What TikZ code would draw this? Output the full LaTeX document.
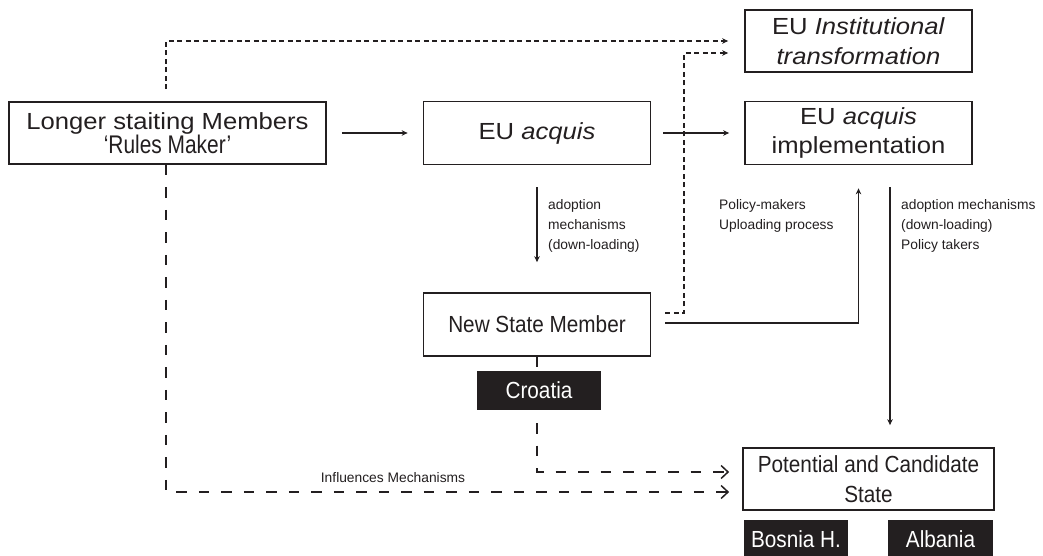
\documentclass[tikz,border=0pt]{standalone}
\usepackage{fontspec}
\setmainfont{Liberation Sans}
\newfontfamily\widef[FakeStretch=1.1]{Liberation Sans}
\newfontfamily\narf[FakeStretch=0.89]{Liberation Sans}
\newfontfamily\rmkf[FakeStretch=0.82]{Liberation Sans}
\usetikzlibrary{arrows.meta}
\definecolor{ink}{RGB}{35,31,32}
\begin{document}
\begin{tikzpicture}[x=1pt,y=-1pt,
  box/.style={draw=ink,line width=1.7pt,fill=white,text=ink,align=center,inner sep=0pt},
  bigtxt/.style={font=\widef\fontsize{23.3}{29.5}\selectfont},
  midtxt/.style={font=\narf\fontsize{23.3}{30}\selectfont},
  tag/.style={fill=ink,text=white,inner sep=0pt,font=\narf\fontsize{23.3}{25}\selectfont},
  lab/.style={text=ink,align=left,inner sep=0pt,anchor=north west,font=\fontsize{13.8}{20}\selectfont},
  arr/.style={draw=ink,line width=1.4pt,-{Stealth[length=6pt,width=5.5pt]}},
  sdash/.style={draw=ink,line width=1.4pt,dash pattern=on 5pt off 3.5pt,-{Stealth[length=6pt,width=5.5pt]}},
  ldash/.style={draw=ink,line width=1.5pt,dash pattern=on 10.5pt off 12pt,-{Straight Barb[length=7pt,width=13pt,line width=1.5pt]}},
  lline/.style={draw=ink,line width=1.5pt,dash pattern=on 10.5pt off 12pt}
]
\useasboundingbox (0,0) rectangle (1043,556);
\fill[white] (0,0) rectangle (1043,556);

\node[box,minimum width=317pt,minimum height=62pt] (lsm) at (167.5,133)
  {{\widef\fontsize{23.3}{29}\selectfont Longer staiting Members}\\{\rmkf\fontsize{25.5}{29}\selectfont ‘Rules Maker’}};
\node[box,bigtxt,minimum width=227pt,minimum height=63pt] (acq) at (537,133) {EU \textit{acquis}};
\node[box,bigtxt,minimum width=227pt,minimum height=63pt] (impl) at (858.5,133) {EU \textit{acquis}\\implementation};
\node[box,bigtxt,minimum width=227pt,minimum height=62pt] (inst) at (858.5,41) {EU \textit{Institutional}\\\textit{transformation}};
\node[box,midtxt,minimum width=227pt,minimum height=63pt] (nsm) at (537,324.5) {New State Member};
\node[tag,minimum width=124pt,minimum height=39pt] (cro) at (539,390.5) {Croatia};
\node[box,midtxt,minimum width=251pt,minimum height=62pt] (pcs) at (868.5,479) {Potential and Candidate\\State};
\node[tag,minimum width=104pt,minimum height=38pt] (bos) at (796,539) {Bosnia H.};
\node[tag,minimum width=105pt,minimum height=38pt] (alb) at (940.5,539) {Albania};

% labels
\node[lab] (l1) at (548,199) {adoption\\mechanisms\\(down-loading)};
\node[lab] (l2) at (719,199) {Policy-makers\\Uploading process};
\node[lab] (l3) at (901,199) {adoption mechanisms\\(down-loading)\\Policy takers};
\node[text=ink,inner sep=0pt,font=\fontsize{13.8}{15}\selectfont] (l4) at (393,478) {Influences Mechanisms};

% solid connectors
\draw[arr,shorten <=15pt,shorten >=15pt] (lsm.east) -- (acq.west);
\draw[arr,shorten <=12pt,shorten >=15pt] (acq.east) -- (impl.west);
\draw[arr,shorten <=22pt,shorten >=30pt] (acq.south) -- (nsm.north);
\draw[arr,shorten <=14pt] ([yshift=1.5pt]nsm.east) -| ([yshift=-23pt]impl.south);
\draw[arr] ([xshift=31.5pt,yshift=-22pt]impl.south) -- ([xshift=21.5pt,yshift=22pt]pcs.north);

% dashed connectors
\draw[sdash,shorten <=12pt,shorten >=16pt] ([xshift=-1.5pt]lsm.north) |- (inst.west);
\draw[sdash,shorten <=14pt,shorten >=16pt] ([yshift=11.5pt]nsm.east) -| ([xshift=-60pt,yshift=-12pt]inst.west) -- ([yshift=-12pt]inst.west);
\draw[lline] (nsm.south) -- (nsm.south |- cro.north);
\draw[ldash,shorten <=13pt,shorten >=13pt] ([xshift=-2pt]cro.south) |- ([yshift=7pt]pcs.west);
\draw[ldash,shorten >=13pt] ([xshift=-1.5pt]lsm.south) |- ([yshift=-13pt]pcs.west);
\end{tikzpicture}
\end{document}
